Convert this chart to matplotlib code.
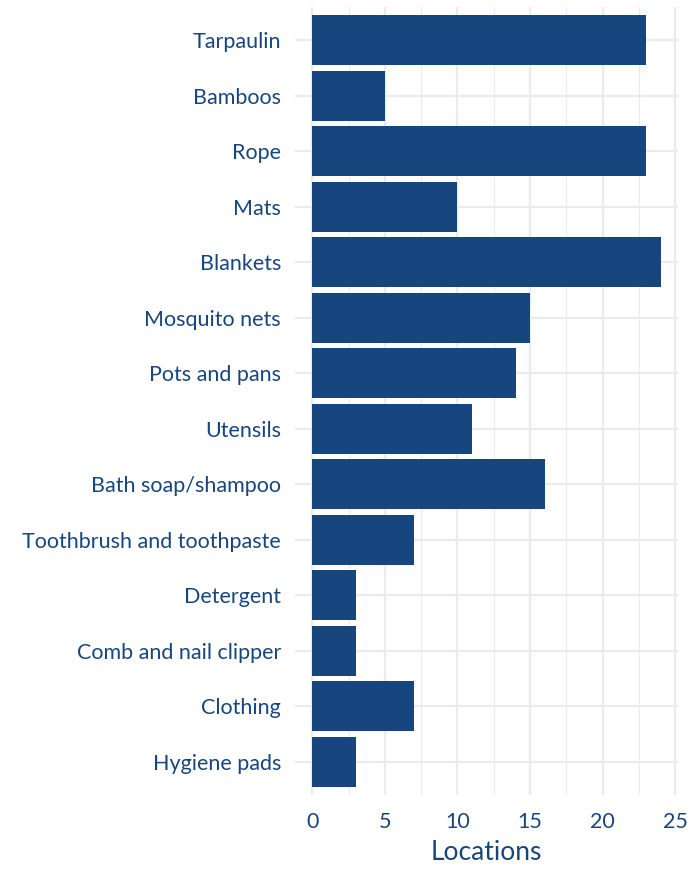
import matplotlib.pyplot as plt
from matplotlib.ticker import MultipleLocator

items = ['Tarpaulin', 'Bamboos', 'Rope', 'Mats', 'Blankets', 'Mosquito nets',
         'Pots and pans', 'Utensils', 'Bath soap/shampoo',
         'Toothbrush and toothpaste', 'Detergent', 'Comb and nail clipper',
         'Clothing', 'Hygiene pads']
locations = [23, 5, 23, 10, 24, 15, 14, 11, 16, 7, 3, 3, 7, 3]

blue = '#17467f'
plt.rcParams['font.family'] = ['Lato', 'DejaVu Sans']

fig = plt.figure(figsize=(6.99, 8.71), dpi=100)
ax = fig.add_axes([0.422, 0.0873, 0.548, 0.905])

ypos = list(range(len(items), 0, -1))
ax.barh(ypos, locations, height=0.9, color=blue, zorder=3)

ax.set_xlim(-1.2, 25.2)
ax.set_ylim(0.4, len(items) + 0.6)
ax.set_yticks(ypos)
ax.set_yticklabels(items)
ax.xaxis.set_major_locator(MultipleLocator(5))
ax.xaxis.set_minor_locator(MultipleLocator(2.5))

ax.grid(which='major', color='#ebebeb', linewidth=1.6, zorder=0)
ax.grid(which='minor', axis='x', color='#ebebeb', linewidth=0.8, zorder=0)
ax.set_axisbelow(True)
for s in ax.spines.values():
    s.set_visible(False)
ax.tick_params(which='both', length=0, colors=blue, labelsize=15.5)
ax.tick_params(axis='x', pad=12)
ax.tick_params(axis='y', pad=10)

ax.set_xlabel('Locations', color=blue, fontsize=19, labelpad=6)

fig.savefig('out.png', dpi=100)
